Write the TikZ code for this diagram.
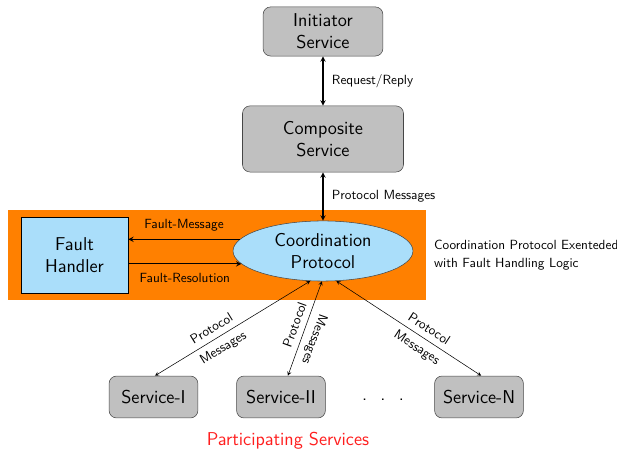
\documentclass[tikz,border=0pt]{standalone}
\usepackage{fontspec}
\renewcommand{\familydefault}{\sfdefault}
\usetikzlibrary{shapes.geometric, arrows, fit, backgrounds}

\definecolor{boxgray}{RGB}{192,192,192}
\definecolor{edgegray}{RGB}{70,70,70}
\definecolor{faultblue}{RGB}{170,222,250}
\definecolor{zoneorange}{RGB}{255,128,0}
\definecolor{partred}{RGB}{255,30,30}

\newcommand{\boxfont}{\fontsize{14}{16.5}\selectfont}
\newcommand{\tagfont}{\fontsize{10}{13.5}\selectfont}

\tikzstyle{service} = [rectangle, rounded corners=0.2cm, minimum width=2.35cm, minimum height=1.11cm, text centered, align=center, draw=edgegray, fill=boxgray, font=\boxfont]
\tikzstyle{faultbox} = [rectangle, minimum width=2.83cm, minimum height=2.01cm, align=center, draw=black, fill=faultblue, font=\boxfont]
\tikzstyle{protocol} = [ellipse, minimum width=4.76cm, minimum height=1.59cm, inner sep=0pt, align=center, draw=edgegray, fill=faultblue, font=\boxfont]
\tikzstyle{tag} = [font=\tagfont]
\tikzstyle{slopetag} = [font=\tagfont, sloped, inner sep=4.5pt]
\tikzstyle{arrow} = [thick,<->,>=stealth]
\tikzstyle{onearrow} = [thick,->,>=stealth]
\tikzstyle{thinarrow} = [<->,>=stealth]

\begin{document}
\begin{tikzpicture}[node distance=3cm]
  \useasboundingbox (-8.546,0.833) rectangle (7.779,-11.152);

  \node (init) [service, minimum width=3.17cm, minimum height=1.3cm] {Initiator\\Service};
  \node (comp) [service, below of=init, yshift=0.156cm, minimum width=4.26cm, minimum height=1.75cm] {Composite\\Service};
  \node (coord) [protocol, below of=comp, yshift=0.036cm] {Coordination\\Protocol};
  \node (handler) [faultbox, left of=coord, xshift=-3.575cm, yshift=-0.106cm] {Fault\\Handler};
  \node (srv1) [service, below of=coord, xshift=-4.485cm, yshift=-0.863cm] {Service-I};
  \node (srv2) [service, below of=coord, xshift=-1.111cm, yshift=-0.863cm] {Service-II};
  \node (srvN) [service, below of=coord, xshift=4.128cm, yshift=-0.863cm] {Service-N};
  \node (dots) [below of=coord, xshift=1.588cm, yshift=-0.942cm, font=\boxfont] {.\hspace{10pt}.\hspace{10pt}.};
  \node (part) [node distance=1.164cm, below of=srv2, xshift=0.185cm, font=\boxfont, text=partred] {Participating Services};

  \begin{pgfonlayer}{background}
    \node (zone) [fill=zoneorange, inner xsep=0.344cm, inner ysep=0.185cm, fit=(handler)(coord)] {};
  \end{pgfonlayer}
  \node (note) [tag, anchor=west, align=left, xshift=2.2pt] at (zone.east) {Coordination Protocol Exenteded\\with Fault Handling Logic};

  \draw [arrow] (init) -- node[tag, anchor=west, xshift=3pt] {Request/Reply} (comp);
  \draw [arrow] (comp) -- node[tag, anchor=west, xshift=3pt] {Protocol Messages} (coord);
  \draw [onearrow] (coord.172) -- node[tag, anchor=south, yshift=2pt] {Fault-Message} (coord.172 -| handler.east);
  \draw [onearrow] (handler.east |- coord.189) -- node[tag, anchor=north, yshift=-3pt] {Fault-Resolution} (coord.189);

  \draw [thinarrow] (coord.247) -- node[slopetag, above, pos=0.6] {Protocol} node[slopetag, below, pos=0.6] {Messages} (srv1.86);
  \draw [thinarrow] (coord.268) -- node[slopetag, above, pos=0.5] {Protocol} node[slopetag, above, allow upside down, pos=0.57] {Messages} (srv2.72);
  \draw [thinarrow] (coord.294) -- node[slopetag, above, pos=0.6] {Protocol} node[slopetag, below, pos=0.6] {Messages} (srvN.84);

\end{tikzpicture}
\end{document}
